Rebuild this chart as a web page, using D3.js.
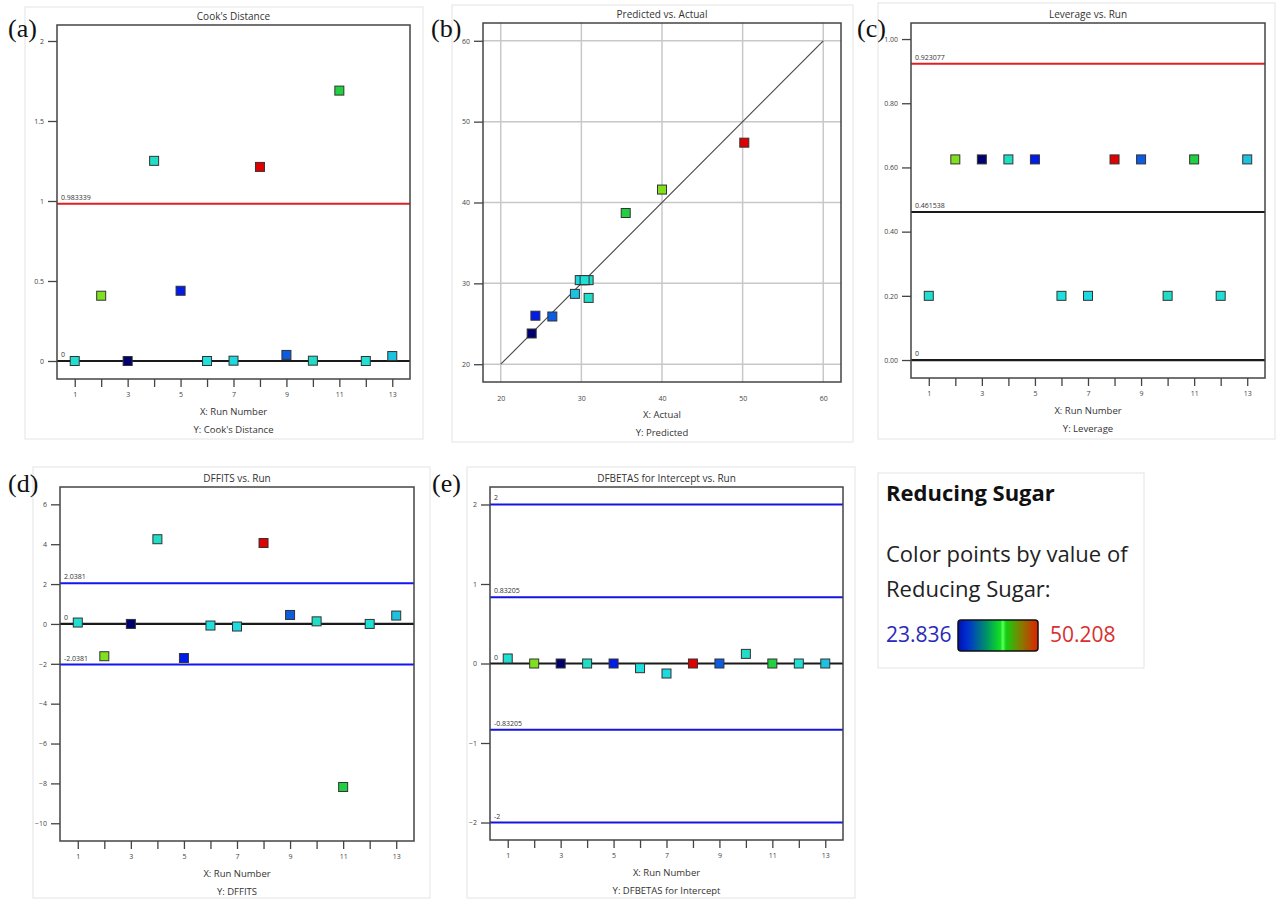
<!DOCTYPE html>
<html>
<head>
    <meta charset="utf-8" />
    <script src="https://d3js.org/d3.v7.min.js"></script>
    <title>Diagnostics - Reducing Sugar</title>
    <style>
        body { margin: 0; background: #fff; }
        text { font-family: "Open Sans", "Noto Sans", sans-serif; }
    </style>
</head>
<body>
    <svg id="chart"></svg>
    <script type="text/javascript">
        // run order 1..13
        var runs = [1, 2, 3, 4, 5, 6, 7, 8, 9, 10, 11, 12, 13];
        // reducing sugar, actual and predicted
        var actual = [30.5, 40.0, 23.836, 30.9, 24.3, 30.1, 29.8, 50.208, 26.4, 30.9, 35.5, 30.4, 29.2];
        var predicted = [30.4, 41.6, 23.8, 28.2, 26.0, 30.4, 30.4, 47.4, 25.9, 30.4, 38.7, 30.4, 28.7];
        var cooks = [0, 0.408, 0, 1.251, 0.439, 0, 0.002, 1.213, 0.038, 0.002, 1.690, 0, 0.031];
        var leverage = [0.2, 0.625, 0.625, 0.625, 0.625, 0.2, 0.2, 0.625, 0.625, 0.2, 0.625, 0.2, 0.625];
        var dffits = [0.07, -1.62, 0, 4.25, -1.71, -0.08, -0.13, 4.06, 0.45, 0.13, -8.18, 0, 0.42];
        var dfbetas = [0.063, 0, 0, 0, 0, -0.059, -0.126, 0, 0, 0.121, 0, 0, 0];

        // reference lines
        var cooksLimits = [0.983339, 0];
        var leverageLimits = [0.923077, 0.461538, 0];
        var dffitsLimits = [2.0381, 0, -2.0381];
        var dfbetasLimits = [2, 0.83205, 0, -0.83205, -2];

        var sugarMin = 23.836, sugarMax = 50.208;

        const svg = d3.select('#chart').attr('width', 1277).attr('height', 899);

        // colour by reducing sugar value
        var color = d3.scaleLinear()
            .domain([sugarMin, 24.2, 27, 30, 35.5, 40, sugarMax])
            .range(['#00006e', '#0018e8', '#1070e0', '#20e0e0', '#20d040', '#80e020', '#e00000']);

        function box(x, y, w, h) {
            svg.append('rect').attr('x', x).attr('y', y).attr('width', w).attr('height', h)
                .attr('fill', 'none').attr('stroke', '#e4e4e4').attr('stroke-width', 1);
        }

        function panelLetter(txt, x, y) {
            svg.append('text').attr('x', x).attr('y', y).text(txt)
                .style('font-family', '"Liberation Serif", "Times New Roman", serif')
                .style('font-size', '26px').attr('fill', '#111');
        }

        function texts(f, title, xl, yl) {
            var cx = (f.l + f.r) / 2;
            svg.append('text').attr('x', cx).attr('y', f.t - 5).attr('text-anchor', 'middle')
                .style('font-size', '10px').attr('fill', '#333').text(title);
            svg.append('text').attr('x', cx).attr('y', f.b + 36).attr('text-anchor', 'middle')
                .style('font-size', '9.5px').attr('fill', '#333').text(xl);
            svg.append('text').attr('x', cx).attr('y', f.b + 54).attr('text-anchor', 'middle')
                .style('font-size', '9.5px').attr('fill', '#333').text(yl);
        }

        function styleAxis(g) {
            g.select('.domain').remove();
            g.selectAll('line').attr('stroke', '#444').attr('stroke-width', 1.3);
            g.selectAll('text').style('font-size', '7px').attr('fill', '#444')
                .style('font-family', '"Open Sans", sans-serif');
        }

        function frame(f) {
            svg.append('rect').attr('x', f.l).attr('y', f.t).attr('width', f.r - f.l).attr('height', f.b - f.t)
                .attr('fill', 'none').attr('stroke', '#444').attr('stroke-width', 1.5);
        }

        function markers(xs, ys, x, y) {
            svg.append('g').selectAll('rect').data(runs).enter().append('rect')
                .attr('x', function (d, i) { return x(xs[i]) - 4.5; })
                .attr('y', function (d, i) { return y(ys[i]) - 4.5; })
                .attr('width', 9).attr('height', 9)
                .attr('fill', function (d, i) { return color(actual[i]); })
                .attr('stroke', '#333').attr('stroke-width', 1);
        }

        // run-number plot
        function runPlot(f, yDomain, yTicks, yFmt, values, limits, limitColor, title, yl) {
            var x = d3.scaleLinear().domain([0.33, 13.67]).range([f.l, f.r]);
            var y = d3.scaleLinear().domain(yDomain).range([f.b, f.t]);

            var ya = svg.append('g').attr('transform', 'translate(' + f.l + ',0)')
                .call(d3.axisLeft(y).tickValues(yTicks).tickSize(9).tickPadding(4).tickFormat(yFmt));
            styleAxis(ya);
            var xa = svg.append('g').attr('transform', 'translate(0,' + f.b + ')')
                .call(d3.axisBottom(x).tickValues(runs).tickSize(8).tickPadding(5)
                    .tickFormat(function (d) { return d % 2 ? d : ''; }));
            styleAxis(xa);

            limits.forEach(function (v) {
                var c = v === 0 ? '#1a1a1a' : limitColor(v);
                svg.append('line').attr('x1', f.l).attr('x2', f.r).attr('y1', y(v)).attr('y2', y(v))
                    .attr('stroke', c).attr('stroke-width', v === 0 ? 2.2 : 2);
                svg.append('text').attr('x', f.l + 4).attr('y', y(v) - 4)
                    .style('font-size', '7px').attr('fill', '#333').text(v);
            });
            frame(f);
            markers(runs, values, x, y);
            texts(f, title, 'X: Run Number', yl);
        }

        // (a) Cook's distance
        box(25, 7, 398, 432);
        runPlot({ l: 57, t: 25, r: 410, b: 379 }, [-0.1125, 2.1], [0, 0.5, 1, 1.5, 2], d3.format(''),
            cooks, cooksLimits, function (v) { return v === 0.983339 ? '#e02020' : '#222'; },
            "Cook's Distance", "Y: Cook's Distance");
        panelLetter('(a)', 8, 37);

        // (c) Leverage
        box(878, 3, 397, 436);
        runPlot({ l: 911, t: 23, r: 1265, b: 378 }, [-0.056, 1.05], [0, 0.2, 0.4, 0.6, 0.8, 1], d3.format('.2f'),
            leverage, leverageLimits, function (v) { return v === 0.923077 ? '#e02020' : '#1a1a1a'; },
            'Leverage vs. Run', 'Y: Leverage');
        panelLetter('(c)', 857, 37);

        // (d) DFFITS
        box(33, 467, 397, 431);
        runPlot({ l: 60, t: 487, r: 414, b: 841 }, [-10.89, 6.87], [-10, -8, -6, -4, -2, 0, 2, 4, 6], d3.format(''),
            dffits, dffitsLimits, function () { return '#1515ee'; },
            'DFFITS vs. Run', 'Y: DFFITS');
        panelLetter('(d)', 8, 492);

        // (e) DFBETAS
        box(467, 467, 388, 431);
        runPlot({ l: 490, t: 487, r: 843, b: 840 }, [-2.22, 2.22], [-2, -1, 0, 1, 2], d3.format(''),
            dfbetas, dfbetasLimits, function () { return '#1515e0'; },
            'DFBETAS for Intercept vs. Run', 'Y: DFBETAS for Intercept');
        panelLetter('(e)', 432, 492);

        // (b) Predicted vs. Actual
        box(452, 5, 401, 437);
        (function () {
            var f = { l: 483, t: 23, r: 841, b: 382 };
            var x = d3.scaleLinear().domain([17.8, 62.2]).range([f.l, f.r]);
            var y = d3.scaleLinear().domain([17.8, 62.2]).range([f.b, f.t]);
            var ticks = [20, 30, 40, 50, 60];
            var grid = svg.append('g');
            grid.selectAll('.gx').data(ticks).enter().append('line')
                .attr('x1', function (d) { return x(d); }).attr('x2', function (d) { return x(d); })
                .attr('y1', f.t).attr('y2', f.b).attr('stroke', '#c8c8c8').attr('stroke-width', 1.5);
            grid.selectAll('.gy').data(ticks).enter().append('line')
                .attr('y1', function (d) { return y(d); }).attr('y2', function (d) { return y(d); })
                .attr('x1', f.l).attr('x2', f.r).attr('stroke', '#c8c8c8').attr('stroke-width', 1.5);

            var ya = svg.append('g').attr('transform', 'translate(' + f.l + ',0)')
                .call(d3.axisLeft(y).tickValues(ticks).tickSize(9).tickPadding(4));
            styleAxis(ya);
            var xa = svg.append('g').attr('transform', 'translate(0,' + f.b + ')')
                .call(d3.axisBottom(x).tickValues(ticks).tickSize(0).tickPadding(14));
            styleAxis(xa);

            svg.append('line').attr('x1', x(20)).attr('y1', y(20)).attr('x2', x(60)).attr('y2', y(60))
                .attr('stroke', '#444').attr('stroke-width', 1.1);
            frame(f);
            markers(actual, predicted, x, y);
            texts(f, 'Predicted vs. Actual', 'X: Actual', 'Y: Predicted');
        })();
        panelLetter('(b)', 431, 37);

        // legend
        box(878, 473, 266, 195);
        svg.append('text').attr('x', 886).attr('y', 501).style('font-size', '22px').style('font-weight', 'bold')
            .attr('fill', '#111').text('Reducing Sugar');
        svg.append('text').attr('x', 886).attr('y', 562).style('font-size', '22px')
            .attr('fill', '#222').text('Color points by value of');
        svg.append('text').attr('x', 886).attr('y', 597).style('font-size', '22px')
            .attr('fill', '#222').text('Reducing Sugar:');
        svg.append('text').attr('x', 886).attr('y', 642).style('font-size', '21px')
            .attr('fill', '#2a2ab8').text(sugarMin);
        svg.append('text').attr('x', 1050).attr('y', 642).style('font-size', '21px')
            .attr('fill', '#d83030').text(sugarMax);

        var grad = svg.append('defs').append('linearGradient').attr('id', 'sugarGrad');
        [[0, '#0010b0'], [0.12, '#0030d0'], [0.35, '#00906a'], [0.53, '#10e020'], [0.56, '#60ff60'],
         [0.6, '#10d010'], [0.78, '#808000'], [1, '#e02000']].forEach(function (s) {
            grad.append('stop').attr('offset', s[0]).attr('stop-color', s[1]);
        });
        svg.append('rect').attr('x', 958).attr('y', 620).attr('width', 80).attr('height', 31).attr('rx', 3)
            .attr('fill', 'url(#sugarGrad)').attr('stroke', '#111').attr('stroke-width', 1.5);
    </script>
</body>
</html>
